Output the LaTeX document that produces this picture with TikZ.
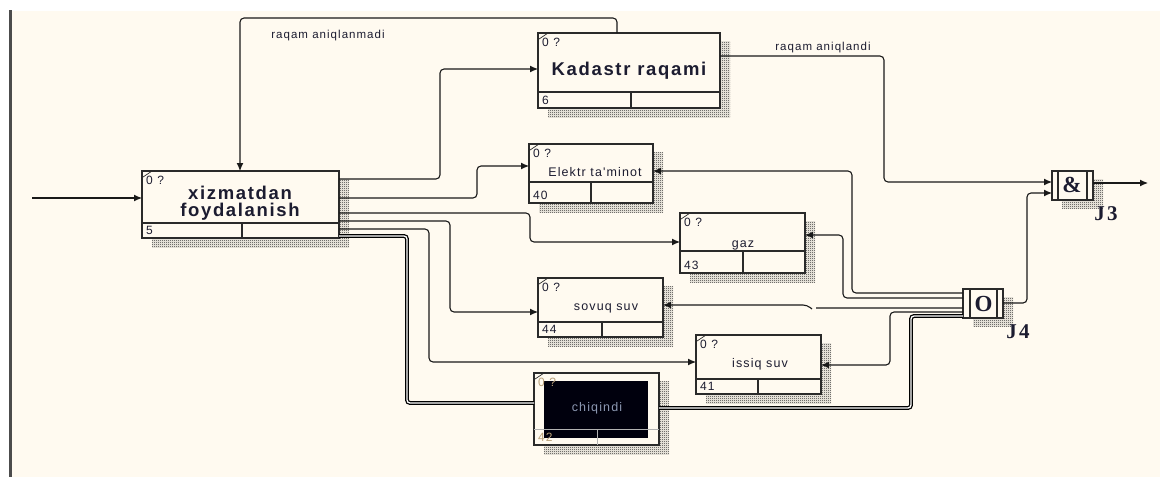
\documentclass[tikz,border=0pt]{standalone}
\usepackage{fontspec}
\setmainfont{Liberation Sans}
\newfontfamily\lsans[LetterSpace=9]{Liberation Sans}
\newfontfamily\lserif[LetterSpace=10]{Liberation Serif}
\usetikzlibrary{arrows.meta,patterns,calc}
\definecolor{cream}{HTML}{FFFAF0}
\definecolor{ink}{HTML}{1C1C30}
\definecolor{boxln}{HTML}{2A2A2A}
\definecolor{chqtxt}{RGB}{140,152,178}
\definecolor{chqsm}{RGB}{185,160,120}
\pgfdeclarepatternformonly{checker}{\pgfpointorigin}{\pgfpoint{2pt}{2pt}}{\pgfpoint{2pt}{2pt}}{%
  \pgfpathrectangle{\pgfpointorigin}{\pgfpoint{1pt}{1pt}}%
  \pgfpathrectangle{\pgfpoint{1pt}{1pt}}{\pgfpoint{1pt}{1pt}}%
  \pgfusepath{fill}}
\tikzset{
 boxst/.style={draw=boxln, line width=1.2pt, fill=cream, inner sep=0pt, outer sep=0pt, anchor=north west},
 shd/.style={pattern=checker, pattern color=black!85},
 conn/.style={draw=black!90, line width=1.1pt, rounded corners=4pt},
 arr/.style={conn, -{Latex[length=8pt,width=7pt]}},
 dbl/.style={draw=black, line width=1.3pt, double=white, double distance=1.3pt, rounded corners=3pt},
 smalltxt/.style={font=\lsans\fontsize{11.5}{12}\selectfont, text=ink, inner sep=0pt},
 boxtxt/.style={font=\lsans\fontsize{12.5}{13}\selectfont, text=ink, inner sep=0pt, anchor=base},
 bigtxt/.style={font=\lsans\bfseries\fontsize{18.5}{17}\selectfont, text=ink, inner sep=0pt, align=center},
 jtxt/.style={font=\lserif\bfseries\fontsize{21}{21}\selectfont, text=ink, inner sep=0pt, anchor=base},
 jsym/.style={font=\lserif\bfseries\fontsize{23}{23}\selectfont, text=ink, inner sep=0pt},
}
\newcommand\ibox[8]{%
 \fill[shd] (#2+10,#3+8) rectangle (#4+10,#5+9);
 \node[boxst, minimum width={#4-#2}, minimum height={#5-#3}] (#1) at (#2,#3) {};
 \draw[draw=boxln, line width=1.1pt] (#2,#6) -- (#4,#6) (#7,#6) -- (#7,#5);
 \draw[draw=boxln, line width=0.7pt] (#2+1,#3+6) -- (#2+10,#3);
 \node[smalltxt, anchor=west, font=\lsans\fontsize{12}{12}\selectfont] (#1q) at (#2+4,#3+9) {0 ?};
 \node[smalltxt, anchor=west, font=\lsans\fontsize{12}{12}\selectfont] (#1n) at (#2+4,#5-8) {#8};
}
\begin{document}
\begin{tikzpicture}[x=1pt,y=-1pt]
\useasboundingbox (0,0) rectangle (1160,477);
\fill[white] (0,0) rectangle (1160,477);
\fill[cream] (12,11) rectangle (1160,477);
\fill[black!70] (9,10) rectangle (12,477);

% boxes
\ibox{b1}{142}{171}{339}{238}{223}{242}{5}
\ibox{kad}{538}{33}{720}{108}{92}{631}{6}
\ibox{el}{529}{144}{653}{203}{182}{591}{40}
\ibox{gaz}{680}{213}{805}{273}{251}{743}{43}
\ibox{sov}{538}{278}{663}{337}{322}{602}{44}
\ibox{iss}{696}{335}{821}{394}{379}{758}{41}

% chiqindi box
\fill[shd] (544,381) rectangle (669,454);
\node[boxst, minimum width=125, minimum height=72] (chq) at (534,373) {};
\fill[black!95!blue] (544,381) rectangle (648,438);
\draw[draw=gray!60, line width=1pt] (534,429) -- (659,429) (597,429) -- (597,445);
\draw[draw=boxln, line width=0.7pt] (535,379) -- (544,373);
\node[smalltxt, anchor=west, text=chqsm, font=\lsans\fontsize{12}{12}\selectfont] (chqq) at (538,382) {0 ?};
\node[smalltxt, anchor=west, text=chqsm, font=\lsans\fontsize{12}{12}\selectfont] (chqn) at (538,437) {42};

% junctions
\fill[shd] (1062,179) rectangle (1103,208);
\node[boxst, minimum width=41, minimum height=29] (j3) at (1052,171) {};
\draw[draw=boxln, line width=1.1pt] (1058,171) -- (1058,200) (1087,171) -- (1087,200);
\fill[shd] (973,297) rectangle (1013,326);
\node[boxst, minimum width=40, minimum height=29] (j4) at (963,289) {};
\draw[draw=boxln, line width=1.1pt] (970,289) -- (970,318) (997,289) -- (997,318);

% titles
\node[bigtxt] (t1) at (240,203.5) {xizmatdan\\foydalanish};
\node[bigtxt, anchor=base] (tkad) at (629,75) {Kadastr raqami};
\node[boxtxt] (tel) at (595,176) {Elektr ta'minot};
\node[boxtxt] (tgaz) at (743,247) {gaz};
\node[boxtxt] (tsov) at (606,310) {sovuq suv};
\node[boxtxt] (tiss) at (760,367) {issiq suv};
\node[boxtxt, text=chqtxt] (tchq) at (597,411) {chiqindi};
\node[jsym] (amp) at (1072,185) {\&};
\node[jsym] (oo) at (983.5,304) {O};
\node[jtxt] (lj3) at (1106,220) {J3};
\node[jtxt] (lj4) at (1018,338) {J4};
\node[smalltxt, anchor=base] (lab1) at (328,38) {raqam aniqlanmadi};
\node[smalltxt, anchor=base] (lab2) at (823,50) {raqam aniqlandi};

% connectors
\coordinate (in) at (32,198);
\coordinate (out) at (1148,183);
\draw[arr] (in) -- (b1.west |- in);
\draw[arr] (kad.north -| 617,0) |- (240,18) -- (b1.north -| 240,0);
\draw[arr] (b1.east |- 0,179) -| (440,69) -- (kad.west |- 0,69);
\draw[arr] (b1.east |- 0,198) -| (477,166) -- (el.west |- 0,166);
\draw[arr] (b1.east |- 0,213) -| (530,242) -- (gaz.west |- 0,242);
\draw[arr] (b1.east |- 0,221) -| (450,312) -- (sov.west |- 0,312);
\draw[arr] (b1.east |- 0,229) -| (429,362) -- (iss.west |- 0,362);
\draw[dbl] (b1.east |- 0,236) -| (407,403) -- (chq.west |- 0,403);
\draw[dbl] (chq.east |- 0,408) -| (911,316) -- (j4.west |- 0,316);
\draw[arr] (j4.west |- 0,293) -| (852,171) -- (el.east |- 0,171);
\draw[arr] (j4.west |- 0,298) -| (843,235) -- (gaz.east |- 0,235);
\draw[arr] (j4.west |- 0,308) -- (816,308) (812,309) -- (807,305) -- (sov.east |- 0,305);
\draw[arr] (j4.west |- 0,312) -| (890,365) -- (iss.east |- 0,365);
\draw[arr] (j4.east |- 0,303) -| (1027,193) -- (j3.west |- 0,193);
\draw[arr] (kad.east |- 0,56) -| (884,182) -- (j3.west |- 0,182);
\draw[arr] (j3.east |- 0,183) -- (out);
\end{tikzpicture}
\end{document}
